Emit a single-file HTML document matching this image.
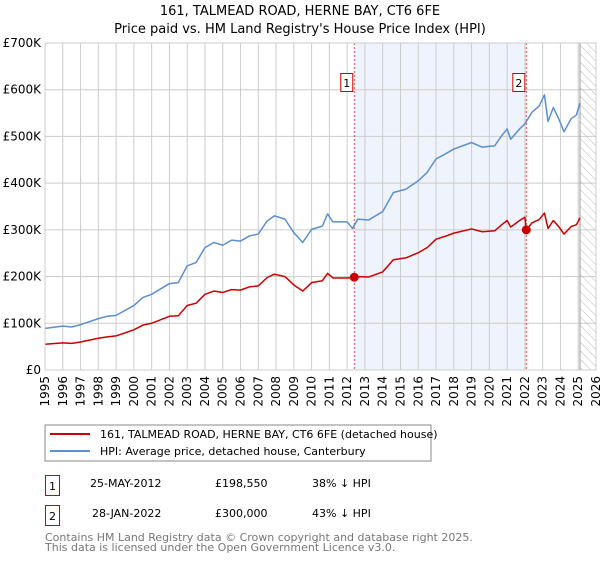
<!DOCTYPE html>
<html><head><meta charset="utf-8"><style>
body{margin:0;background:#fff;font-family:"Liberation Sans","DejaVu Sans",sans-serif;}
svg text{font-family:"DejaVu Sans","Liberation Sans",sans-serif;}
</style></head><body>
<svg id="c" width="600" height="560" xmlns="http://www.w3.org/2000/svg">
<defs><pattern id="hatch" width="6" height="6" patternUnits="userSpaceOnUse" patternTransform="rotate(-45)"><line x1="0" y1="0" x2="0" y2="6" stroke="#bbb" stroke-width="1"/></pattern></defs>
<text x="300" y="15" text-anchor="middle" font-size="13" fill="#000">161, TALMEAD ROAD, HERNE BAY, CT6 6FE</text>
<text x="300" y="33" text-anchor="middle" font-size="13" fill="#000">Price paid vs. HM Land Registry's House Price Index (HPI)</text>
<g id="plot"></g>
<rect x="45" y="425" width="386" height="36" fill="#fff" stroke="#888"/>
<line x1="50" y1="434" x2="90" y2="434" stroke="#cc0000" stroke-width="2"/>
<text x="100" y="438" font-size="11">161, TALMEAD ROAD, HERNE BAY, CT6 6FE (detached house)</text>
<line x1="50" y1="451" x2="90" y2="451" stroke="#5b8fd0" stroke-width="2"/>
<text x="100" y="455" font-size="11">HPI: Average price, detached house, Canterbury</text>
<g font-size="11">
<rect x="45.5" y="475.5" width="14" height="20" fill="#fff" stroke="#cc0000"/><text x="52.5" y="490" text-anchor="middle">1</text>
<text x="90" y="487">25-MAY-2012</text><text x="215" y="487">£198,550</text><text x="312" y="487">38% ↓ HPI</text>
<rect x="45.5" y="505.5" width="14" height="20" fill="#fff" stroke="#cc0000"/><text x="52.5" y="520" text-anchor="middle">2</text>
<text x="92" y="517">28-JAN-2022</text><text x="215" y="517">£300,000</text><text x="312" y="517">43% ↓ HPI</text>
</g>
<text x="45" y="541" font-size="11" fill="#777">Contains HM Land Registry data © Crown copyright and database right 2025.</text>
<text x="45" y="551" font-size="11" fill="#777">This data is licensed under the Open Government Licence v3.0.</text>
</svg>
<script>
const years=[1995,1996,1997,1998,1999,2000,2001,2002,2003,2004,2005,2006,2007,2008,2009,2010,2011,2012,2013,2014,2015,2016,2017,2018,2019,2020,2021,2022,2023,2024,2025,2026];
const yTicks=[0,100,200,300,400,500,600,700];
const yTickLabels=["£0","£100K","£200K","£300K","£400K","£500K","£600K","£700K"];
const hpiT=[1995,1996,1996.5,1997,1998,1998.5,1999,2000,2000.5,2001,2002,2002.5,2003,2003.5,2004,2004.5,2005,2005.5,2006,2006.5,2007,2007.5,2007.9,2008.5,2009,2009.5,2010,2010.6,2010.9,2011.2,2012,2012.3,2012.6,2013.2,2014,2014.6,2015.3,2016,2016.5,2017,2017.5,2018,2019,2019.6,2020.3,2020.7,2021,2021.2,2021.7,2022,2022.4,2022.8,2023.1,2023.3,2023.6,2023.9,2024.2,2024.6,2024.9,2025.1];
const hpiV=[89,94,92,97,110,115,117,138,155,162,185,187,223,230,262,273,267,278,276,287,291,319,330,323,294,273,301,308,334,317,317,303,323,321,339,380,387,405,423,452,462,473,487,477,480,502,516,494,516,527,552,565,589,532,562,538,510,538,546,572];
const redT=[1995,1996,1996.5,1997,1998,1998.5,1999,2000,2000.5,2001,2002,2002.5,2003,2003.5,2004,2004.5,2005,2005.5,2006,2006.5,2007,2007.5,2007.9,2008.5,2009,2009.5,2010,2010.6,2010.9,2011.2,2012,2012.4,2012.6,2013.2,2014,2014.6,2015.3,2016,2016.5,2017,2017.5,2018,2019,2019.6,2020.3,2020.7,2021,2021.2,2021.7,2022,2022.08,2022.4,2022.8,2023.1,2023.3,2023.6,2023.9,2024.2,2024.6,2024.9,2025.1];
const redV=[55,58,57,60,68,71,73,86,96,100,115,116,138,143,162,169,166,172,171,178,180,198,205,200,182,169,187,191,207,197,197,198.55,200,199,210,236,240,251,262,280,286,293,302,296,298,311,320,306,320,327,300,315,322,336,303,320,307,291,307,311,326];
const saleT=[2012.4,2022.08];
const saleV=[198.55,300];
const saleLabels=["1","2"];
const L=45,R=596,T=43,B=370,X0=1995,X1=2026,YMAX=700;
const xs=t=>L+(t-X0)/(X1-X0)*(R-L);
const ys=v=>B-v/YMAX*(B-T);
const NS="http://www.w3.org/2000/svg";
const g=document.getElementById('plot');
function mk(tag,attrs){const e=document.createElementNS(NS,tag);for(const k in attrs)e.setAttribute(k,attrs[k]);g.appendChild(e);return e;}
let e=mk('rect',{x:xs(saleT[0]),y:T,width:xs(saleT[1])-xs(saleT[0]),height:B-T,fill:'#eef3fc'});


years.forEach(y=>{const l=mk('line',{x1:xs(y),x2:xs(y),y1:T,y2:B,stroke:'#ccc','stroke-width':1});


const t=mk('text',{x:0,y:0,'font-size':12,'text-anchor':'end',transform:`translate(${xs(y)+4},${B+6}) rotate(-90)`});t.textContent=y;

});
yTicks.forEach((v,i)=>{const l=mk('line',{x1:L,x2:R,y1:ys(v),y2:ys(v),stroke:'#ccc','stroke-width':1});


const t=mk('text',{x:L-4,y:ys(v)+4,'font-size':12,'text-anchor':'end'});t.textContent=yTickLabels[i];

});
e=mk('rect',{x:xs(2025.1),y:T,width:R-xs(2025.1),height:B-T,fill:'url(#hatch)',stroke:'#999'});


saleT.forEach((s,i)=>{const l=mk('line',{x1:xs(s),x2:xs(s),y1:T,y2:B,stroke:'#e05050','stroke-dasharray':'2,2','stroke-width':1});


const r=mk('rect',{x:xs(s)-13.5,y:73.5,width:12,height:18,fill:'#fff',stroke:'#cc0000'});


const t=mk('text',{x:xs(s)-7.5,y:87,'font-size':11,'text-anchor':'middle'});t.textContent=saleLabels[i];

});
function line(T_,V_,col,name){const p=mk('polyline',{points:T_.map((t,i)=>xs(t)+','+ys(V_[i])).join(' '),fill:'none',stroke:col,'stroke-width':1.5,'stroke-linejoin':'round'});

}
line(hpiT,hpiV,'#5b8fd0','hpi-line');
line(redT,redV,'#cc0000','price-paid-line');
saleT.forEach((s,i)=>{const c=mk('circle',{cx:xs(s),cy:ys(saleV[i]),r:4.5,fill:'#cc0000'});

});
e=mk('rect',{x:L,y:T,width:R-L,height:B-T,fill:'none',stroke:'#ccc'});


</script>
</body></html>
